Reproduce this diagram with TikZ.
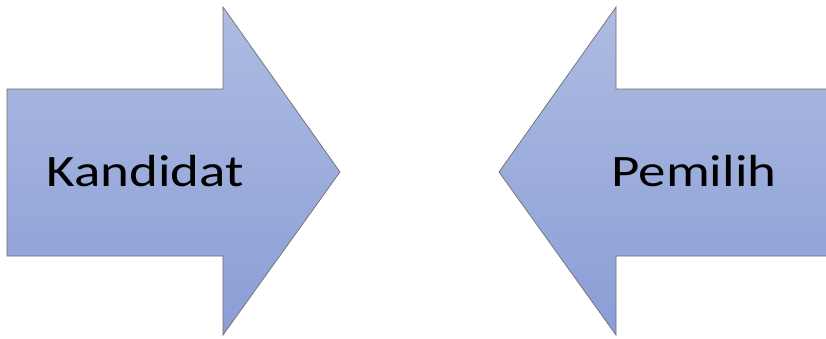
\documentclass[tikz,border=0pt]{standalone}
\usepackage{fontspec}
\newfontfamily\calibri[FakeStretch=1.22]{Carlito}
\usetikzlibrary{positioning}
\definecolor{arrowtop}{RGB}{174,188,226}
\definecolor{arrowbottom}{RGB}{138,158,214}
\definecolor{arrowline}{RGB}{110,110,110}

\begin{document}
\begin{tikzpicture}[
    x=1pt, y=-1pt,
    blockarrow/.style={draw=arrowline, line width=0.7pt, top color=arrowtop, bottom color=arrowbottom},
    arrowtext/.style={font=\calibri\fontsize{45}{54}\selectfont, anchor=base, inner sep=0pt, text=black}
]
\clip (0,0) rectangle (826,338);

% left arrow (pointing right)
\path[blockarrow] (7,89) -- (223,89) -- (223,7) -- (340,172) -- (223,335) -- (223,256) -- (7,256) -- cycle;
% right arrow (pointing left), body runs off the edge
\path[blockarrow] (832,89) -- (616,89) -- (616,7) -- (499,172) -- (616,335) -- (616,256) -- (832,256) -- cycle;

\node[arrowtext] (kandidat) at (145,186) {Kandidat};
\node[arrowtext] (pemilih) at (694,186) {Pemilih};

\end{tikzpicture}
\end{document}
